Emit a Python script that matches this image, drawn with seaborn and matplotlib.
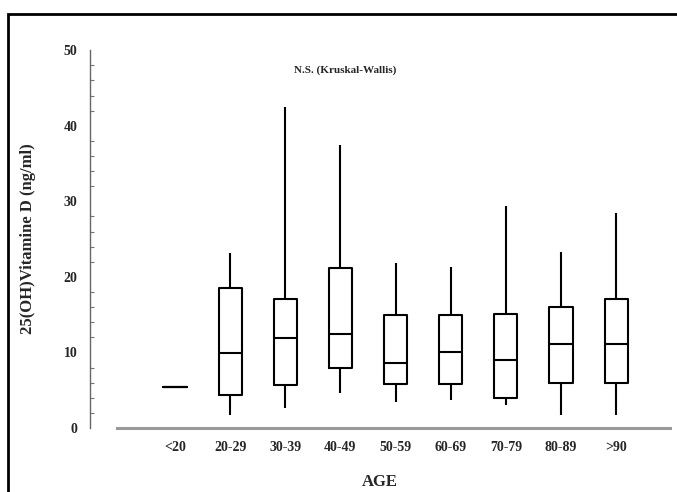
import numpy as np
import pandas as pd
import seaborn as sns
import matplotlib.pyplot as plt
from matplotlib.patches import Rectangle
from matplotlib.ticker import MultipleLocator

sns.set_style("white")
plt.rcParams['font.family'] = ['Liberation Serif', 'DejaVu Serif']
plt.rcParams['font.weight'] = 'bold'

# age groups and box summaries: min, q1, median, q3, max
ages = ['<20', '20-29', '30-39', '40-49', '50-59', '60-69', '70-79', '80-89', '>90']
lows = [5.4, 1.7, 2.6, 4.6, 3.5, 3.7, 3.0, 1.7, 1.7]
q1s = [5.4, 4.4, 5.7, 7.9, 5.8, 5.8, 4.0, 5.9, 5.9]
medians = [5.4, 9.9, 11.9, 12.4, 8.6, 10.0, 9.0, 11.1, 11.1]
q3s = [5.4, 18.5, 17.1, 21.2, 14.9, 14.9, 15.1, 16.0, 17.1]
highs = [5.4, 23.1, 42.5, 37.4, 21.8, 21.3, 29.4, 23.3, 28.4]

rows = []
for i, a in enumerate(ages):
    for v in (lows[i], q1s[i], medians[i], q3s[i], highs[i]):
        rows.append({'age': a, 'vitd': v})
df = pd.DataFrame(rows)

fig = plt.figure(figsize=(6.77, 4.92), dpi=100)
ax = fig.add_axes([0.133, 0.13, 0.857, 0.768])

line = dict(color='black', linewidth=1.5)
sns.boxplot(data=df, x='age', y='vitd', order=ages, whis=(0, 100), width=0.42,
            showcaps=False, fill=False, color='black', linewidth=1.5,
            boxprops=line, whiskerprops=line, medianprops=line, ax=ax)

ax.set_xlim(-1.54, 8.98)
ax.set_ylim(0, 50)
ax.yaxis.set_major_locator(MultipleLocator(10))
ax.yaxis.set_minor_locator(MultipleLocator(2))
ax.tick_params(axis='y', which='major', direction='inout', length=6, width=1,
               color='#555555', labelsize=10, pad=6)
ax.tick_params(axis='y', which='minor', direction='in', length=3, width=0.8,
               color='#777777', left=True)
ax.tick_params(axis='x', length=0, labelsize=10, pad=9)

for s in ['top', 'right']:
    ax.spines[s].set_visible(False)
ax.spines['left'].set_color('#666666')
ax.spines['left'].set_linewidth(1)
ax.spines['bottom'].set_color('#999999')
ax.spines['bottom'].set_linewidth(2.2)
ax.spines['bottom'].set_bounds(-1.05, 8.98)

ax.set_xlabel('AGE', fontsize=12, fontweight='bold', labelpad=15)
ax.set_ylabel('25(OH)Vitamine D (ng/ml)', fontsize=12, fontweight='bold', labelpad=20)
ax.text(3.08, 47, 'N.S. (Kruskal-Wallis)', fontsize=8, fontweight='bold', ha='center')

fig.patches.append(Rectangle((8 / 677, -0.1), 1.2, 1 - 14 / 492 + 0.1,
                             transform=fig.transFigure, fill=False,
                             edgecolor='black', linewidth=2))

fig.savefig('out.png', dpi=100)
